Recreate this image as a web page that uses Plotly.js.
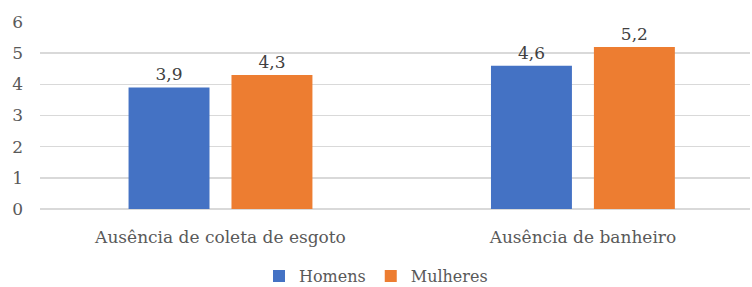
<!DOCTYPE html>
<html>
<head>
<meta charset="utf-8">
<script src="https://cdn.plot.ly/plotly-3.0.1.min.js"></script>
<style>html,body{margin:0;padding:0;background:#fff;}#chart{width:752px;height:287px;}</style>
</head>
<body>
<div id="chart"></div>
<script>
var categories = ["Ausência de coleta de esgoto", "Ausência de banheiro"];
var homens = [3.9, 4.6];
var mulheres = [4.3, 5.2];
var seriesNames = ["Homens", "Mulheres"];

var fam = "DejaVu Serif";
var font = {family: fam, size: 17, color: "#595959"};
var traces = [
  {type: "bar", name: seriesNames[0], x: categories, y: homens, marker: {color: "#4472C4"},
   texttemplate: "%{y:.1f}", textposition: "outside", cliponaxis: false,
   textfont: {family: fam, size: 17, color: "#404040"}, hoverinfo: "none"},
  {type: "bar", name: seriesNames[1], x: categories, y: mulheres, marker: {color: "#ED7D31"},
   texttemplate: "%{y:.1f}", textposition: "outside", cliponaxis: false,
   textfont: {family: fam, size: 17, color: "#404040"}, hoverinfo: "none"}
];
var layout = {
  width: 752, height: 287,
  margin: {l: 40, r: 2, t: 22, b: 78, autoexpand: false},
  font: font,
  separators: ",.",
  barmode: "group",
  bargap: 0.432,
  bargroupgap: 0.2136,
  paper_bgcolor: "#fff", plot_bgcolor: "#fff",
  xaxis: {type: "category", range: [-0.498, 1.461], showgrid: false, showline: false, ticks: "",
          ticklabelstandoff: 16,
          tickfont: {family: fam, size: 17, color: "#595959"}, fixedrange: true, automargin: false},
  yaxis: {range: [0, 6], dtick: 1, showgrid: true, gridcolor: "#d9d9d9", gridwidth: 1.5,
          zeroline: true, zerolinecolor: "#d9d9d9", zerolinewidth: 1.5, showline: false,
          ticks: "", ticklabelstandoff: 16, tickfont: {family: fam, size: 17, color: "#595959"}, fixedrange: true, automargin: false},
  showlegend: true,
  legend: {orientation: "h", x: 0.5, xanchor: "center", xref: "container", y: 0.097, yanchor: "top", yref: "container",
           font: {family: fam, size: 16, color: "#595959"}, traceorder: "normal"}
};
Plotly.newPlot("chart", traces, layout, {displayModeBar: false, staticPlot: true});
</script>
</body>
</html>
